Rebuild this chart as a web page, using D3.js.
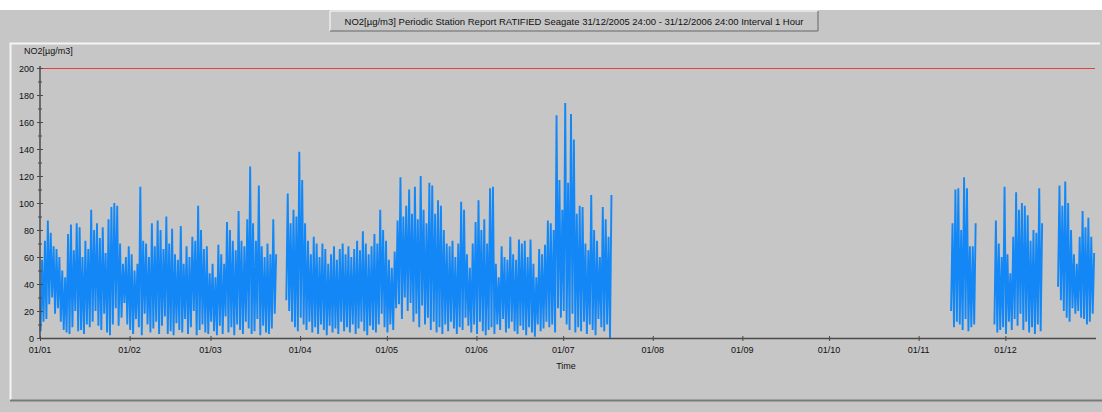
<!DOCTYPE html>
<html>
<head>
<meta charset="utf-8">
<script src="https://cdn.jsdelivr.net/npm/d3@7"></script>
<style>
  body { margin: 0; background: #fff; }
  svg text { font-family: Arial, "Liberation Sans", sans-serif; fill: #111; }
</style>
</head>
<body>
<svg id="chart" width="1102" height="412"></svg>
<script>
// Daily highs / lows, per block of valid data
// block 1: 01/01 - 23/03
const janMarStart = '2006-01-01';
const janMarMax = [58,72,87,78,68,66,60,50,45,77,84,65,85,82,60,72,66,95,80,85,74,82,63,88,97,100,98,70,55,60,68,
    62,50,55,112,72,70,60,85,68,87,80,66,90,70,81,62,58,83,55,68,60,75,72,98,80,66,68,48,
    55,45,69,62,55,86,80,72,65,94,72,68,88,127,85,72,113,68,60,70,62,88,62];
const janMarMin = [5,12,14,25,30,18,22,12,6,4,3,8,20,5,6,3,10,8,12,20,9,6,18,4,2,10,22,9,15,26,10,
    6,3,14,8,2,18,10,4,7,12,3,9,16,3,5,2,11,6,4,14,3,8,20,2,6,10,4,3,
    12,5,2,9,3,16,4,8,2,10,6,3,12,7,3,5,14,2,9,4,3,7,18];

// block 2: 27/03 - 18/07
const aprJulStart = '2006-03-27';
const aprJulMax = [107,85,95,90,138,117,85,72,62,75,70,60,70,66,55,62,68,58,66,70,62,68,60,66,72,65,79,70,62,68,77,70,95,80,72,
    58,52,64,87,119,90,98,110,92,112,88,120,95,85,115,113,92,102,98,80,70,68,72,60,70,101,95,62,52,70,86,
    102,80,88,70,111,112,55,45,68,60,58,75,62,58,73,70,72,60,73,55,45,66,62,69,87,85,80,165,117,95,
    174,115,166,147,92,98,97,70,65,106,80,72,60,97,88,75,106];
const aprJulMin = [28,20,12,8,5,15,10,6,12,4,8,3,10,6,2,9,4,7,3,12,5,8,4,10,3,7,12,5,2,9,6,4,10,18,8,
    4,10,6,22,25,14,30,20,26,12,18,8,24,10,15,6,12,4,8,3,10,5,12,7,3,8,6,15,9,4,10,
    3,12,5,2,6,8,3,10,6,14,4,7,12,5,3,9,6,2,8,4,1,10,5,7,12,8,10,4,22,15,
    20,10,6,18,4,8,5,12,3,10,6,2,14,8,5,10,0];

// block 3: 12/11 - 20/11
const novStart = '2006-11-12';
const novMax = [85,110,111,80,119,111,68,68,85];
const novMin = [20,8,12,10,6,14,5,8,10];

// block 4: 27/11 - 13/12
const decStart = '2006-11-27';
const decMax = [87,70,60,112,62,48,75,108,95,100,98,91,72,80,78,111,85];
const decMin = [10,4,6,8,3,12,6,14,9,18,6,12,4,8,3,10,5];

// block 5: 19/12 - 31/12
const xmasStart = '2006-12-19';
const xmasMax = [113,98,116,100,80,62,55,75,94,82,89,75,63];
const xmasMin = [38,28,20,15,12,22,18,20,15,14,10,12,18];

const limitValue = 200;
const yTicks = [0,20,40,60,80,100,120,140,160,180,200];

const blocks = [
    [janMarStart, janMarMax, janMarMin],
    [aprJulStart, aprJulMax, aprJulMin],
    [novStart, novMax, novMin],
    [decStart, decMax, decMin],
    [xmasStart, xmasMax, xmasMin]
];

const svg = d3.select('#chart');
const W = 1102, H = 412;
const bg = '#c6c6c6';

// window background
svg.append('rect').attr('x', 0).attr('y', 10).attr('width', W).attr('height', H - 10).attr('fill', bg);

// title "button"
const bx = 330, by = 11, bw = 488, bh = 20;
svg.append('rect').attr('x', bx).attr('y', by).attr('width', bw).attr('height', bh).attr('fill', bg);
svg.append('path').attr('d', `M${bx},${by + bh} V${by} H${bx + bw}`).attr('stroke', '#fff').attr('fill', 'none');
svg.append('path').attr('d', `M${bx},${by + bh} H${bx + bw} V${by}`).attr('stroke', '#666').attr('fill', 'none');
svg.append('text').attr('x', bx + bw / 2).attr('y', by + 14).attr('text-anchor', 'middle')
    .attr('font-size', 9.5)
    .text('NO2[µg/m3] Periodic Station Report RATIFIED Seagate 31/12/2005 24:00 - 31/12/2006 24:00 Interval 1 Hour');

// chart panel border
svg.append('path').attr('d', 'M10.5,400 V43.5 H1100').attr('stroke', '#f4f4f4').attr('stroke-width', 2).attr('fill', 'none');
svg.append('path').attr('d', 'M10,400.5 H1102').attr('stroke', '#7a7a7a').attr('stroke-width', 2).attr('fill', 'none');

// scales
const x = d3.scaleUtc()
    .domain([new Date(Date.UTC(2006, 0, 1)), new Date(Date.UTC(2007, 0, 1))])
    .range([40, 1095]);
const y = d3.scaleLinear().domain([0, 200]).range([338, 68]);

// limit line
svg.append('line')
    .attr('x1', x.range()[0]).attr('x2', x.range()[1])
    .attr('y1', y(limitValue) + 0.5).attr('y2', y(limitValue) + 0.5)
    .attr('stroke', '#e2413f').attr('stroke-width', 1);

// series: low in the early morning, peak in the evening of each day
const line = d3.line().x(d => x(d.t)).y(d => y(d.v));
const day = 864e5;
blocks.forEach(b => {
    const t0 = new Date(b[0] + 'T00:00:00Z').getTime();
    const pts = [];
    b[1].forEach((mx, i) => {
        pts.push({ t: new Date(t0 + i * day + 5 * 36e5), v: b[2][i] });
        pts.push({ t: new Date(t0 + i * day + 17 * 36e5), v: mx });
    });
    svg.append('path').datum(pts)
        .attr('d', line)
        .attr('fill', 'none')
        .attr('stroke', '#1287f5')
        .attr('stroke-width', 1.9)
        .attr('stroke-linejoin', 'bevel');
});

// axes
const axisColor = '#4a4a4a';
svg.append('line').attr('x1', 40).attr('x2', 40).attr('y1', 66).attr('y2', 339)
    .attr('stroke', axisColor).attr('stroke-width', 1.5);
svg.append('line').attr('x1', 40).attr('x2', 1096).attr('y1', 338.5).attr('y2', 338.5)
    .attr('stroke', axisColor).attr('stroke-width', 1.5);

const yg = svg.append('g');
yTicks.forEach(v => {
    yg.append('line').attr('x1', 37).attr('x2', 43).attr('y1', y(v) + 0.5).attr('y2', y(v) + 0.5)
        .attr('stroke', axisColor);
    if (v < 200) {
        yg.append('line').attr('x1', 38).attr('x2', 42).attr('y1', y(v + 10) + 0.5).attr('y2', y(v + 10) + 0.5)
            .attr('stroke', axisColor);
    }
    yg.append('text').attr('x', 34).attr('y', y(v) + 3.5).attr('text-anchor', 'end')
        .attr('font-size', 9).text(v);
});
svg.append('text').attr('x', 24).attr('y', 54).attr('font-size', 9).text('NO2[µg/m3]');

// month ticks, 01/01 .. 01/12 (the closing 01/01 is not labelled)
const fmt = d3.utcFormat('%d/%m');
const months = d3.utcMonth.range(x.domain()[0], x.domain()[1]);
const xg = svg.append('g');
months.forEach(d => {
    xg.append('line').attr('x1', x(d) + 0.5).attr('x2', x(d) + 0.5).attr('y1', 336).attr('y2', 341)
        .attr('stroke', axisColor);
    xg.append('text').attr('x', x(d)).attr('y', 353).attr('text-anchor', 'middle')
        .attr('font-size', 9).text(fmt(d));
});
svg.append('text').attr('x', 566).attr('y', 369).attr('text-anchor', 'middle').attr('font-size', 9).text('Time');
</script>
</body>
</html>
